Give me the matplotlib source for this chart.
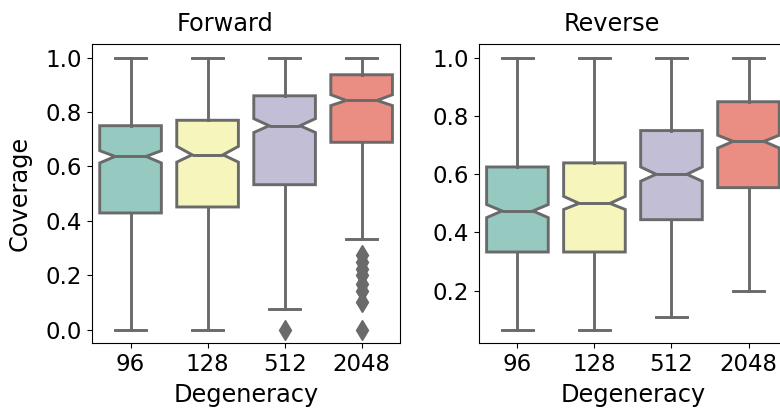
import matplotlib

matplotlib.use("Agg")
import matplotlib.pyplot as plt

# degeneracy levels on the x axis
degeneracy = ["96", "128", "512", "2048"]
colors = ["#96cac1", "#f6f6bc", "#c1bed6", "#ea8d83"]
edge = "#6a6a6a"

# forward direction: box summary per degeneracy
fwd_med = [0.637, 0.643, 0.75, 0.843]
fwd_q1 = [0.429, 0.451, 0.533, 0.689]
fwd_q3 = [0.75, 0.77, 0.86, 0.9375]
fwd_lo = [0.0, 0.0, 0.076, 0.333]
fwd_hi = [1.0, 1.0, 1.0, 1.0]
fwd_cilo = [0.613, 0.616, 0.725, 0.824]
fwd_cihi = [0.658, 0.674, 0.776, 0.864]
fwd_fliers = [[], [], [0.0], [0.0, 0.1, 0.143, 0.167, 0.2, 0.222, 0.25, 0.273]]

# reverse direction
rev_med = [0.474, 0.5, 0.6, 0.713]
rev_q1 = [0.333, 0.333, 0.444, 0.554]
rev_q3 = [0.625, 0.639, 0.75, 0.849]
rev_lo = [0.0667, 0.0667, 0.111, 0.2]
rev_hi = [1.0, 1.0, 1.0, 1.0]
rev_cilo = [0.451, 0.479, 0.576, 0.69]
rev_cihi = [0.496, 0.524, 0.625, 0.734]
rev_fliers = [[], [], [], []]


def makeStats(med, q1, q3, lo, hi, cilo, cihi, fliers):
    stats = []
    for i in range(len(med)):
        stats.append(
            dict(
                med=med[i],
                q1=q1[i],
                q3=q3[i],
                whislo=lo[i],
                whishi=hi[i],
                cilo=cilo[i],
                cihi=cihi[i],
                fliers=fliers[i],
            )
        )
    return stats


def drawBoxes(ax, stats, title):
    line = dict(color=edge, linewidth=2.1)
    bp = ax.bxp(
        stats,
        positions=range(len(stats)),
        widths=0.8,
        shownotches=True,
        patch_artist=True,
        boxprops=dict(edgecolor=edge, linewidth=2.1),
        medianprops=line,
        whiskerprops=line,
        capprops=line,
        flierprops=dict(
            marker="d",
            markersize=10.5,
            markerfacecolor=edge,
            markeredgecolor=edge,
            linestyle="none",
        ),
    )
    for patch, c in zip(bp["boxes"], colors):
        patch.set_facecolor(c)
    ax.set_xlim(-0.5, len(stats) - 0.5)
    ax.set_xticks(range(len(stats)))
    ax.set_xticklabels(degeneracy)
    ax.set_xlabel("Degeneracy", fontsize=17.3, labelpad=5)
    ax.set_title(title, x=0.43, pad=9.5, fontsize=17.3)


plt.rcParams["font.size"] = 16.5

fig = plt.figure(figsize=(7.8, 4.09), dpi=100)
ax1 = fig.add_axes([0.118, 0.161, 0.395, 0.731])
ax2 = fig.add_axes([0.614, 0.161, 0.395, 0.731])

drawBoxes(
    ax1,
    makeStats(fwd_med, fwd_q1, fwd_q3, fwd_lo, fwd_hi, fwd_cilo, fwd_cihi, fwd_fliers),
    "Forward",
)
ax1.set_ylabel("Coverage", fontsize=17.3, labelpad=10)
drawBoxes(
    ax2,
    makeStats(rev_med, rev_q1, rev_q3, rev_lo, rev_hi, rev_cilo, rev_cihi, rev_fliers),
    "Reverse",
)
ax2.set_yticks([0.2, 0.4, 0.6, 0.8, 1.0])

fig.savefig("out.png", dpi=100)
